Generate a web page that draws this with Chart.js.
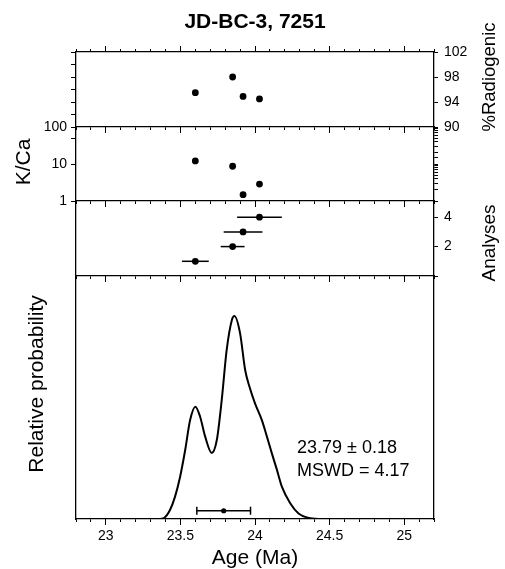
<!DOCTYPE html>
<html>
<head>
<meta charset="utf-8">
<script src="https://cdn.jsdelivr.net/npm/chart.js@4.4.0/dist/chart.umd.min.js"></script>
<style>
body { margin: 0; background: #fff; }
#wrap { position: relative; width: 505px; height: 569px; }
#wrap canvas { position: absolute; left: 0; top: 0; }
</style>
</head>
<body>
<div id="wrap">
<canvas id="radChart" width="505" height="569"></canvas>
<canvas id="kcaChart" width="505" height="569"></canvas>
<canvas id="stepChart" width="505" height="569"></canvas>
<canvas id="probChart" width="505" height="569"></canvas>
</div>
<script>
// step ages (Ma), 1 sigma errors, and per-step values
let stepAges = [23.60, 23.85, 23.92, 24.03];
let stepErrors = [0.09, 0.08, 0.13, 0.15];
let stepRank = [1, 2, 3, 4];
let radiogenic = [95.5, 98.0, 94.9, 94.5];
let kca = [12.1, 8.7, 1.48, 2.87];

// relative probability curve
let probAges = [22.8, 23.36, 23.39, 23.43, 23.464, 23.498, 23.532, 23.565, 23.6, 23.632, 23.666, 23.71, 23.744, 23.777, 23.81, 23.845, 23.862, 23.9, 23.934, 23.963, 24.0, 24.046, 24.08, 24.113, 24.147, 24.18, 24.236, 24.292, 24.37, 24.45, 25.2];
let probValues = [0, 0, 0.4, 3.7, 9.2, 17.4, 28.4, 40.7, 46.2, 42.1, 33.9, 27.2, 32.5, 49, 69.5, 81.9, 83.5, 76.4, 61.3, 54.4, 47.6, 40.7, 33.9, 27, 20.2, 13.3, 6.5, 2.3, 0.3, 0, 0];

// weighted mean
let meanAge = 23.79;
let meanErr = 0.18;
let meanLevel = 3.4;
let mswd = 4.17;

let radTicks = [90, 94, 98, 102];
let kcaTicks = [1, 10, 100];
let rankTicks = [2, 4];

const ageMin = 22.8, ageMax = 25.2;
const leftWidth = 76, rightWidth = 71;
const fontFamily = "'Liberation Sans', Arial, Helvetica, sans-serif";

Chart.defaults.font.family = fontFamily;
Chart.defaults.color = '#000';
Chart.defaults.animation = false;
Chart.defaults.plugins.legend.display = false;
Chart.defaults.plugins.tooltip.enabled = false;

const textPlugin = {
    id: 'panelText',
    afterDraw(chart, args, opts) {
        let ctx = chart.ctx;
        (opts.items || []).forEach(t => {
            ctx.save();
            ctx.translate(t.x, t.y);
            ctx.rotate(t.rotate || 0);
            ctx.font = t.font;
            ctx.fillStyle = '#000';
            ctx.textAlign = t.align || 'center';
            ctx.textBaseline = 'middle';
            ctx.fillText(t.text, 0, 0);
            ctx.restore();
        });
    }
};

// minor ticks every 0.1 Ma and major ticks every 0.5 Ma, sharing one edge
function ageAxes(pos, withLabels) {
    let minor = {
        type: 'linear', position: pos, min: ageMin, max: ageMax, weight: 0,
        afterFit: s => { s.height = 0; },
        border: { color: '#000', width: 1.3 },
        grid: { drawOnChartArea: false, tickLength: 3, color: '#000' },
        ticks: { display: false, stepSize: 0.1 }
    };
    let major = {
        type: 'linear', position: pos, min: ageMin, max: ageMax, weight: 1,
        afterFit: s => { s.height = withLabels ? 50 : 0; },
        border: { display: false },
        grid: { drawOnChartArea: false, tickLength: 6, color: '#000' },
        ticks: {
            display: withLabels, stepSize: 0.5, includeBounds: false, padding: 3,
            font: { size: 14 }, callback: v => String(Math.round(v * 10) / 10)
        },
        title: { display: withLabels, text: 'Age (Ma)', font: { size: 21, lineHeight: 1 }, padding: 0 }
    };
    return [minor, major];
}

function sideAxis(pos, base, tickOpts, showTicks) {
    return Object.assign({
        position: pos,
        afterFit: s => { s.width = pos === 'left' ? leftWidth : rightWidth; },
        border: { color: '#000', width: 1.3 },
        grid: { drawOnChartArea: false, drawTicks: showTicks, tickLength: pos === 'left' ? 5 : 4, color: '#000' },
        ticks: Object.assign({ padding: pos === 'left' ? 4 : 6, font: { size: 14 } }, tickOpts)
    }, base);
}

function pts(xs, ys) {
    return xs.map((x, i) => ({ x: x, y: ys[i] }));
}

function dots(xs, ys, axis) {
    return {
        data: pts(xs, ys), yAxisID: axis,
        pointRadius: 3.4, pointBackgroundColor: '#000', pointBorderWidth: 0
    };
}

function errorBars(axis) {
    return stepAges.map((a, i) => ({
        type: 'line', yAxisID: axis, showLine: true,
        data: [{ x: a - stepErrors[i], y: stepRank[i] }, { x: a + stepErrors[i], y: stepRank[i] }],
        borderColor: '#000', borderWidth: 1.5, pointRadius: 0
    }));
}

function panelScales(withTop, withLabels, yL, yR) {
    let s = {};
    let b = ageAxes('bottom', withLabels);
    s.x = b[0];
    s.xMajor = b[1];
    if (withTop) {
        let t = ageAxes('top', false);
        s.xTop = t[0];
        s.xTopMajor = t[1];
    }
    s.yL = yL;
    s.yR = yR;
    return s;
}

function makeChart(id, top, bottom, scales, datasets, plugins, pluginOpts) {
    return new Chart(document.getElementById(id), {
        type: 'scatter',
        data: { datasets: datasets },
        options: {
            responsive: false,
            layout: { padding: { top: top, bottom: 569 - bottom - (scales.xMajor.ticks.display ? 50 : 0), left: 0, right: 0 } },
            scales: scales,
            plugins: { panelText: pluginOpts || {} }
        },
        plugins: plugins || []
    });
}

// panel 1: % radiogenic
makeChart('radChart', 52, 127,
    panelScales(true, false,
        sideAxis('left', { type: 'linear', min: 90, max: 102 }, { display: false, stepSize: 2 }, true),
        sideAxis('right', { type: 'linear', min: 90, max: 102 },
            { stepSize: 2, callback: v => radTicks.includes(v) ? String(v) : '' }, true)),
    [dots(stepAges, radiogenic, 'yR')]);

// panel 2: K/Ca
makeChart('kcaChart', 127, 201,
    panelScales(false, false,
        sideAxis('left', { type: 'logarithmic', min: 1, max: 100 },
            { callback: v => kcaTicks.includes(v) ? String(v) : '' }, true),
        sideAxis('right', { type: 'logarithmic', min: 1, max: 100 }, { display: false }, true)),
    [dots(stepAges, kca, 'yL')]);

// panel 3: step ages with error bars
makeChart('stepChart', 201, 276,
    panelScales(false, false,
        sideAxis('left', { type: 'linear', min: 0, max: 5.1 }, { display: false }, false),
        sideAxis('right', { type: 'linear', min: 0, max: 5.1 },
            { stepSize: 1, includeBounds: false, callback: v => rankTicks.includes(v) ? String(v) : '' }, true)),
    errorBars('yR').concat([dots(stepAges, stepRank, 'yR')]));

// panel 4: relative probability
let probDatasets = [
    {
        type: 'line', yAxisID: 'yL', showLine: true, data: pts(probAges, probValues),
        borderColor: '#000', borderWidth: 2, pointRadius: 0, fill: false,
        cubicInterpolationMode: 'monotone'
    },
    {
        type: 'line', yAxisID: 'yL', showLine: true,
        data: [{ x: meanAge - meanErr, y: meanLevel }, { x: meanAge + meanErr, y: meanLevel }],
        borderColor: '#000', borderWidth: 1.5,
        pointStyle: 'line', rotation: 90, pointRadius: 4, pointBorderWidth: 1.5, pointBorderColor: '#000'
    },
    {
        data: [{ x: meanAge, y: meanLevel }], yAxisID: 'yL',
        pointRadius: 2.6, pointBackgroundColor: '#000', pointBorderWidth: 0
    }
];

makeChart('probChart', 276, 519,
    panelScales(false, true,
        sideAxis('left', { type: 'linear', min: 0, max: 100 }, { display: false }, false),
        sideAxis('right', { type: 'linear', min: 0, max: 100 }, { display: false }, false)),
    probDatasets, [textPlugin], {
        items: [
            { text: 'JD-BC-3, 7251', x: 255, y: 22, font: 'bold 21px ' + fontFamily },
            { text: '%Radiogenic', x: 490, y: 77, rotate: -Math.PI / 2, font: '18.5px ' + fontFamily },
            { text: 'K/Ca', x: 24, y: 162, rotate: -Math.PI / 2, font: '21px ' + fontFamily },
            { text: 'Analyses', x: 490, y: 243, rotate: -Math.PI / 2, font: '19px ' + fontFamily },
            { text: 'Relative probability', x: 37.5, y: 384, rotate: -Math.PI / 2, font: '21px ' + fontFamily },
            { text: meanAge.toFixed(2) + ' \u00b1 ' + meanErr.toFixed(2), x: 297, y: 448, align: 'left', font: '18px ' + fontFamily },
            { text: 'MSWD = ' + mswd.toFixed(2), x: 297, y: 471, align: 'left', font: '18px ' + fontFamily }
        ]
    });
</script>
</body>
</html>
